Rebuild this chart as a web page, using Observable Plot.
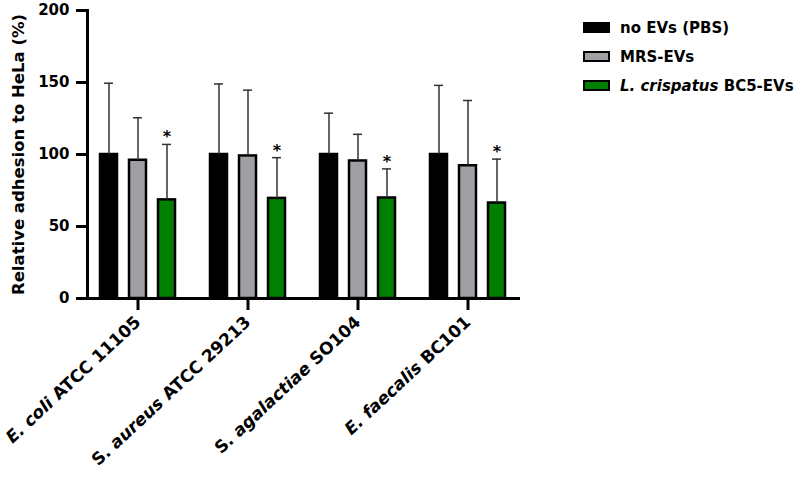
<!DOCTYPE html>
<html><head><meta charset="utf-8">
<script src="https://cdn.jsdelivr.net/npm/d3@7"></script>
<script src="https://cdn.jsdelivr.net/npm/@observablehq/plot@0.6"></script>
<style>
body{margin:0;background:#fff;}
#wrap{position:relative;width:797px;height:479px;font-family:"DejaVu Sans",sans-serif;font-weight:bold;}
#legend{position:absolute;left:583px;top:13px;font-size:15px;color:#000;}
.row{display:flex;align-items:center;height:29px;white-space:nowrap;}
.sw{width:23px;height:7px;border:2px solid #000;margin-right:10px;}
</style></head><body><div id="wrap"><div id="legend"></div></div>
<script>
// ---- data ----
const groups = ["E. coli ATCC 11105", "S. aureus ATCC 29213", "S. agalactiae SO104", "E. faecalis BC101"];
const groupItalic = ["E. coli", "aureus", "agalactiae", "E. faecalis"];
const series = ["no EVs (PBS)", "MRS-EVs", "L. crispatus BC5-EVs"];
const seriesItalic = ["", "", "L. crispatus"];
const colors = ["#000000", "#a0a0a4", "#008000"];
const pbsMean = [100, 100, 100, 100];
const pbsUpper = [149.5, 149, 128.7, 148];
const mrsMean = [96, 99, 95.5, 92.2];
const mrsUpper = [125.5, 144.7, 114, 137.5];
const bc5Mean = [68.5, 69.5, 69.8, 66.3];
const bc5Upper = [107, 97.8, 90, 96.8];
const bc5Sig = ["*", "*", "*", "*"];
const yTicks = [0, 50, 100, 150, 200];
const yLabel = "Relative adhesion to HeLa (%)";

const data = groups.flatMap((g, i) => [
  {group: g, series: series[0], mean: pbsMean[i], upper: pbsUpper[i], sig: ""},
  {group: g, series: series[1], mean: mrsMean[i], upper: mrsUpper[i], sig: ""},
  {group: g, series: series[2], mean: bc5Mean[i], upper: bc5Upper[i], sig: bc5Sig[i]}
]);

const chart = Plot.plot({
  width: 797, height: 479,
  marginTop: 10, marginBottom: 181, marginLeft: 86, marginRight: 277.5,
  style: {fontFamily: "DejaVu Sans", fontWeight: "bold", fontSize: "15px", color: "#000", background: "transparent"},
  fx: {domain: groups, paddingInner: 0.081, paddingOuter: 0, label: null},
  x: {domain: series, padding: 0.4, axis: null},
  y: {domain: [0, 200]},
  color: {domain: series, range: colors},
  marks: [
    Plot.barY(data, {fx: "group", x: "series", y: "mean", fill: "series", stroke: "#000", strokeWidth: 2.5}),
    Plot.ruleX(data, {fx: "group", x: "series", y1: "mean", y2: "upper", stroke: "#333", strokeWidth: 1.5}),
    Plot.tickY(data, {fx: "group", x: "series", y: "upper", stroke: "#333", strokeWidth: 1.5, insetLeft: 4, insetRight: 4}),
    Plot.text(data.filter(d => d.sig), {fx: "group", x: "series", y: "upper", text: "sig", dy: -2, fontSize: 16, lineAnchor: "bottom"}),
    // group tick marks below the x axis (centre of each facet)
    Plot.ruleX(groups, {fx: d => d, x: () => series[1], y1: () => 0, y2: () => 0, insetBottom: -12, stroke: "#000", strokeWidth: 3}),
    Plot.axisY({ticks: yTicks, tickSize: 11, tickPadding: 7, strokeWidth: 3, fontSize: 15, label: yLabel, labelAnchor: "center", labelOffset: 75, labelArrow: "none"}),
    Plot.axisFx({anchor: "bottom", tickRotate: -43, tickSize: 12, tickPadding: 9, fontSize: 17, label: null}),
    Plot.frame({facet: "super", anchor: "left", strokeWidth: 3}),
    Plot.frame({facet: "super", anchor: "bottom", strokeWidth: 3})
  ]
});
document.getElementById("wrap").appendChild(chart);

function fillMixed(el, text, ital, svg) {
  const k = ital ? text.indexOf(ital) : -1;
  const parts = k < 0 ? [[text, false]] : [[text.slice(0, k), false], [ital, true], [text.slice(k + ital.length), false]];
  el.textContent = "";
  for (const [t, it] of parts) {
    if (!t) continue;
    const s = svg ? document.createElementNS("http://www.w3.org/2000/svg", "tspan") : document.createElement("span");
    s.textContent = t;
    if (it) { if (svg) s.setAttribute("font-style", "italic"); else s.style.fontStyle = "italic"; }
    el.appendChild(s);
  }
}
d3.select(chart).selectAll('g[aria-label="fx-axis tick label"] text').each(function() {
  const t = this.textContent;
  const i = groups.indexOf(t);
  if (i >= 0) fillMixed(this, t, groupItalic[i], true);
});
d3.select(chart).selectAll('g[aria-label="y-axis label"] text').attr("font-size", 16.5);

const leg = d3.select("#legend");
series.forEach((s, i) => {
  const row = leg.append("div").attr("class", "row");
  row.append("div").attr("class", "sw").style("background", colors[i]);
  const lab = row.append("span").node();
  fillMixed(lab, s, seriesItalic[i], false);
});
</script></body></html>
